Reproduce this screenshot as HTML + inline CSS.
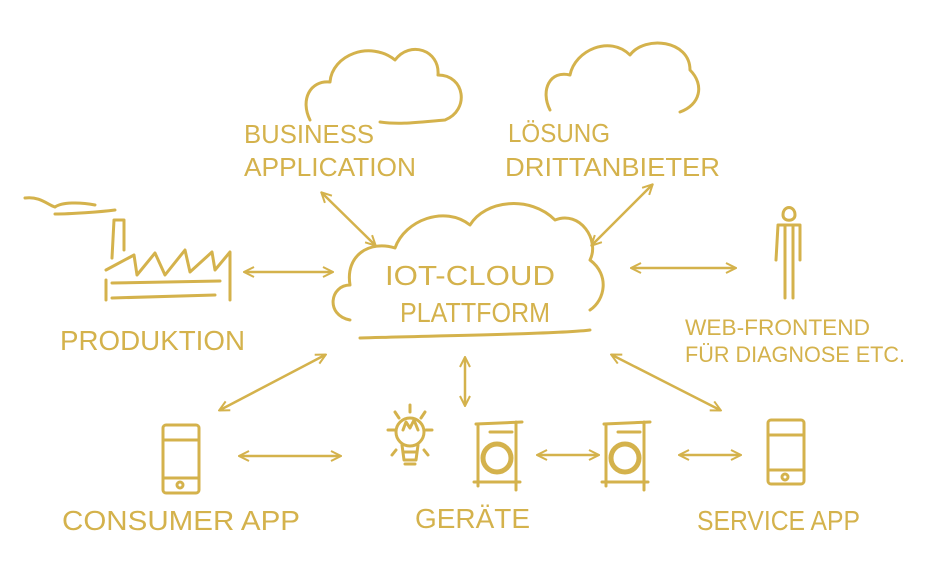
<!DOCTYPE html>
<html><head><meta charset="utf-8"><style>
html,body{margin:0;padding:0;background:#fff;}
svg{display:block}
text{font-family:"Liberation Sans Narrow","Liberation Sans",sans-serif;fill:#d4b24c;font-weight:normal}
</style></head><body>
<svg width="940" height="580" viewBox="0 0 940 580" xmlns="http://www.w3.org/2000/svg">
<defs>
<marker id="a" viewBox="0 0 12 12" refX="10" refY="6" markerWidth="12" markerHeight="12" orient="auto-start-reverse" markerUnits="userSpaceOnUse">
<path d="M1 1 L11 6 L1 11" fill="none" stroke="#d4b24c" stroke-width="2"/></marker>
</defs>
<g fill="none" stroke="#d4b24c" stroke-width="3" stroke-linecap="round" stroke-linejoin="round">
<!-- business cloud -->
<path d="M310 120 C300 100 310 80 330 82 C332 55 370 40 395 60 C410 40 440 50 438 75 C465 75 470 110 445 120 C420 122 400 125 380 122"/>
<!-- loesung cloud -->
<path d="M550 110 C540 90 550 70 570 75 C575 50 610 35 630 55 C645 35 690 40 690 70 C705 85 700 105 680 112"/>
<!-- center cloud -->
<path d="M350 320 C325 315 330 285 350 285 C345 255 370 240 395 248 C405 220 445 205 470 225 C485 200 530 195 555 220 C580 210 600 240 590 260 C610 275 605 300 590 310 M590 330 C560 334 420 336 360 338"/>
<!-- arrows -->
<g stroke-width="2.5">
<line x1="322" y1="193" x2="375" y2="245" marker-start="url(#a)" marker-end="url(#a)"/>
<line x1="652" y1="185" x2="592" y2="245" marker-start="url(#a)" marker-end="url(#a)"/>
<line x1="245" y1="272" x2="332" y2="272" marker-start="url(#a)" marker-end="url(#a)"/>
<line x1="632" y1="268" x2="735" y2="268" marker-start="url(#a)" marker-end="url(#a)"/>
<line x1="325" y1="355" x2="220" y2="410" marker-start="url(#a)" marker-end="url(#a)"/>
<line x1="465" y1="358" x2="465" y2="405" marker-start="url(#a)" marker-end="url(#a)"/>
<line x1="612" y1="355" x2="720" y2="410" marker-start="url(#a)" marker-end="url(#a)"/>
<line x1="240" y1="456" x2="340" y2="456" marker-start="url(#a)" marker-end="url(#a)"/>
<line x1="538" y1="455" x2="598" y2="455" marker-start="url(#a)" marker-end="url(#a)"/>
<line x1="680" y1="455" x2="740" y2="455" marker-start="url(#a)" marker-end="url(#a)"/>
</g>
<!-- factory -->
<path d="M25 198 C40 196 48 205 55 207 C62 202 80 202 95 205 M55 214 C70 214 100 212 115 210"/>
<path d="M112 258 L114 220 L124 220 L124 250 M106 270 L134 255 L137 275 L155 253 L165 275 L185 250 L190 272 L212 252 L215 270 L230 252 L230 300 M106 280 L106 300 M112 283 L220 281 M112 298 L215 295"/>
<!-- person -->
<path d="M783 215 C783 205 795 205 795 215 C795 222 783 222 783 215 M778 225 L800 225 L800 260 M778 225 L776 260 M785 225 L785 298 M793 225 L793 298"/>
<!-- phones -->
<rect x="163" y="425" width="36" height="68" rx="3"/>
<path d="M164 440 L198 440 M164 478 L198 478"/><circle cx="180" cy="485" r="3"/>
<rect x="768" y="420" width="36" height="64" rx="3"/>
<path d="M769 435 L803 435 M769 470 L803 470"/><circle cx="785" cy="477" r="3"/>
<!-- bulb -->
<circle cx="410" cy="432" r="14"/><path d="M402 445 L404 460 L416 460 L418 445 M403 452 L417 452 M405 464 L415 464 M403 430 L406 422 L410 428 L414 420 L418 430"/>
<path d="M388 430 L395 430 M395 412 L399 418 M410 405 L410 412 M425 412 L421 418 M432 430 L426 430 M396 450 L392 455 M424 450 L428 455"/>
<!-- machines -->
<path d="M476 424 L522 422 M478 424 L478 486 M516 422 L516 490 M474 482 L520 482 M490 432 L512 432"/>
<circle cx="497" cy="458" r="14" stroke-width="5"/>
<path d="M604 424 L650 422 M606 424 L606 486 M644 422 L644 490 M602 482 L648 482 M618 432 L640 432"/>
<circle cx="625" cy="458" r="14" stroke-width="5"/>
</g>
<g>
<text x="244" y="143" font-size="26" textLength="130" lengthAdjust="spacingAndGlyphs">BUSINESS</text>
<text x="244" y="176" font-size="26" textLength="172" lengthAdjust="spacingAndGlyphs">APPLICATION</text>
<text x="508" y="142" font-size="26" textLength="102" lengthAdjust="spacingAndGlyphs">LÖSUNG</text>
<text x="505" y="176" font-size="26" textLength="215" lengthAdjust="spacingAndGlyphs">DRITTANBIETER</text>
<text x="385" y="285" font-size="28" textLength="170" lengthAdjust="spacingAndGlyphs">IOT-CLOUD</text>
<text x="400" y="322" font-size="28" textLength="150" lengthAdjust="spacingAndGlyphs">PLATTFORM</text>
<text x="60" y="350" font-size="28" textLength="185" lengthAdjust="spacingAndGlyphs">PRODUKTION</text>
<text x="685" y="335" font-size="22" textLength="185" lengthAdjust="spacingAndGlyphs">WEB-FRONTEND</text>
<text x="685" y="362" font-size="22" textLength="220" lengthAdjust="spacingAndGlyphs">FÜR DIAGNOSE ETC.</text>
<text x="62" y="530" font-size="28" textLength="238" lengthAdjust="spacingAndGlyphs">CONSUMER APP</text>
<text x="415" y="528" font-size="28" textLength="115" lengthAdjust="spacingAndGlyphs">GERÄTE</text>
<text x="697" y="530" font-size="28" textLength="163" lengthAdjust="spacingAndGlyphs">SERVICE APP</text>
</g>
</svg>
</body></html>
